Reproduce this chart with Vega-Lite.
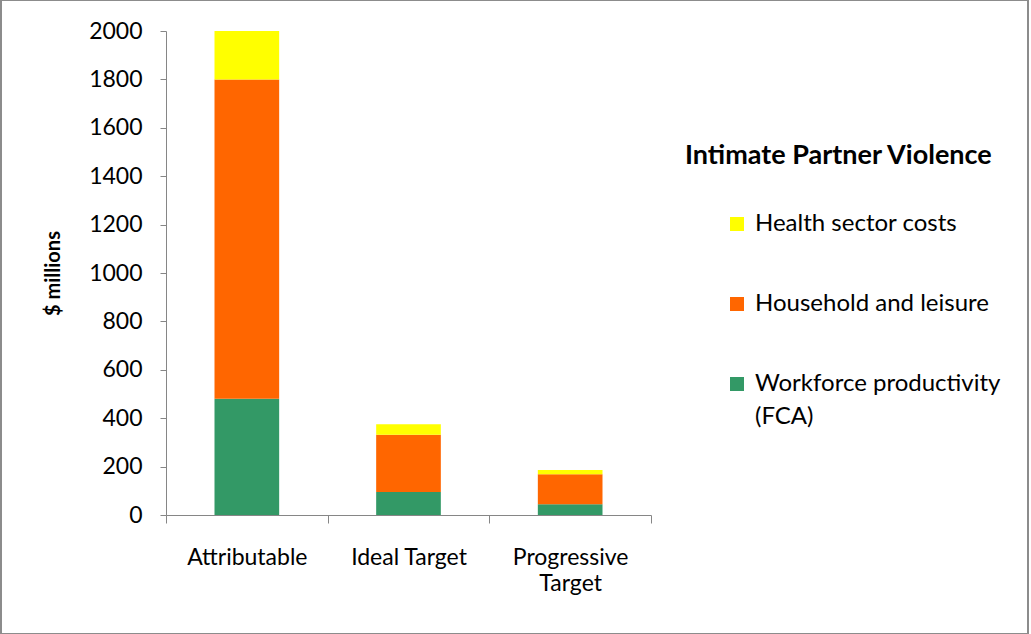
{
  "$schema": "https://vega.github.io/schema/vega-lite/v6.json",
  "width": 1027,
  "height": 634,
  "autosize": {"type": "none"},
  "padding": {"left": 1, "top": 0, "right": 3, "bottom": 0},
  "background": "white",
  "title": {
    "text": "Intimate Partner Violence",
    "anchor": "start",
    "frame": "group",
    "orient": "top",
    "dx": 684,
    "dy": 174,
    "font": "Lato",
    "fontSize": 27,
    "fontWeight": "bold",
    "color": "black"
  },
  "data": {
    "values": [
      {"target": "Attributable", "component": "Workforce productivity (FCA)", "k": 1, "value": 480},
      {"target": "Attributable", "component": "Household and leisure", "k": 2, "value": 1320},
      {"target": "Attributable", "component": "Health sector costs", "k": 3, "value": 200},
      {"target": "Ideal Target", "component": "Workforce productivity (FCA)", "k": 1, "value": 95},
      {"target": "Ideal Target", "component": "Household and leisure", "k": 2, "value": 237},
      {"target": "Ideal Target", "component": "Health sector costs", "k": 3, "value": 43},
      {"target": "Progressive Target", "component": "Workforce productivity (FCA)", "k": 1, "value": 44},
      {"target": "Progressive Target", "component": "Household and leisure", "k": 2, "value": 124},
      {"target": "Progressive Target", "component": "Health sector costs", "k": 3, "value": 18}
    ]
  },
  "mark": {"type": "bar", "width": {"band": 0.4}},
  "encoding": {
    "x": {
      "field": "target",
      "type": "nominal",
      "sort": null,
      "scale": {"paddingInner": 0, "paddingOuter": 0, "range": [165, 650]},
      "axis": {
        "title": null,
        "offset": -119,
        "labelAngle": 0,
        "tickBand": "extent",
        "tickSize": 8,
        "labelPadding": 23,
        "labelFont": "Lato",
        "labelFontSize": 23,
        "labelColor": "black",
        "labelLineHeight": 26,
        "labelExpr": "datum.label == 'Progressive Target' ? ['Progressive', 'Target'] : datum.label",
        "domainColor": "#868686",
        "tickColor": "#868686",
        "domainWidth": 1,
        "tickWidth": 1
      }
    },
    "y": {
      "field": "value",
      "type": "quantitative",
      "stack": "zero",
      "scale": {"domain": [0, 2000], "nice": false, "range": [515, 31]},
      "axis": {
        "title": "$ millions",
        "offset": -165,
        "titleFont": "Lato",
        "titleFontSize": 20,
        "titleFontWeight": "bold",
        "titleColor": "black",
        "titleX": -113,
        "titleY": 273,
        "titleAlign": "center",
        "titleBaseline": "middle",
        "titleAngle": -90,
        "values": [0, 200, 400, 600, 800, 1000, 1200, 1400, 1600, 1800, 2000],
        "format": "d",
        "grid": false,
        "tickSize": 6,
        "labelPadding": 18,
        "labelFont": "Lato",
        "labelFontSize": 23,
        "labelColor": "black",
        "domainColor": "#868686",
        "tickColor": "#868686"
      }
    },
    "color": {
      "field": "component",
      "type": "nominal",
      "scale": {
        "domain": ["Health sector costs", "Household and leisure", "Workforce productivity (FCA)"],
        "range": ["#FFFF00", "#FF6600", "#339966"]
      },
      "legend": {
        "title": null,
        "orient": "none",
        "legendX": 724,
        "legendY": 212,
        "symbolType": "square",
        "symbolSize": 196,
        "symbolStrokeWidth": 0,
        "labelFont": "Lato",
        "labelFontSize": 24,
        "labelColor": "black",
        "labelOffset": 6,
        "labelLimit": 400,
        "rowPadding": 56,
        "labelExpr": "datum.label == 'Workforce productivity (FCA)' ? ['Workforce productivity', '(FCA)'] : datum.label"
      }
    },
    "order": {"field": "k", "type": "quantitative", "sort": "ascending"}
  },
  "config": {
    "view": {"stroke": "#8c8c8c", "strokeWidth": 2},
    "style": {"guide-label": {"lineHeight": 33}}
  }
}
